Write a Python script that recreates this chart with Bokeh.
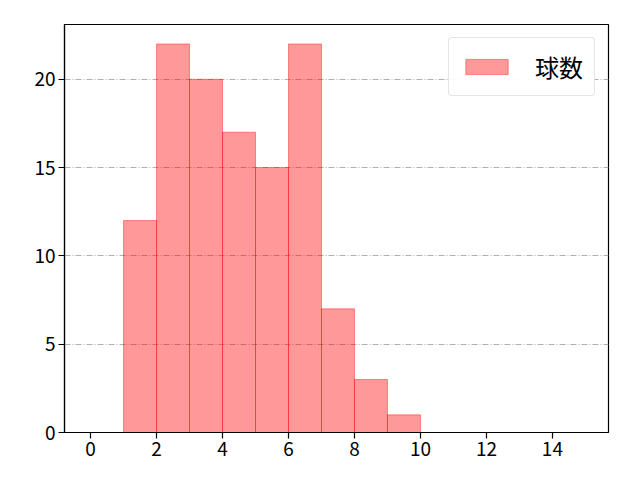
from bokeh.plotting import figure
from bokeh.embed import file_html
from bokeh.resources import INLINE
from bokeh.models import ColumnDataSource, FixedTicker, Range1d, Legend, LegendItem

bin_left = [1, 2, 3, 4, 5, 6, 7, 8, 9]
bin_right = [2, 3, 4, 5, 6, 7, 8, 9, 10]
counts = [12, 22, 20, 17, 15, 22, 7, 3, 1]
label = "球数"
x_ticks = [0, 2, 4, 6, 8, 10, 12, 14]
y_ticks = [0, 5, 10, 15, 20]

src = ColumnDataSource(dict(left=bin_left, right=bin_right, top=counts, bottom=[0] * len(counts)))

p = figure(width=640, height=480, output_backend="svg", toolbar_location=None,
           x_range=Range1d(-0.79, 15.7), y_range=Range1d(0, 23.1))
p.min_border_left = 64
p.min_border_right = 32
p.min_border_top = 24
p.min_border_bottom = 48

r = p.quad(left="left", right="right", top="top", bottom="bottom", source=src,
           fill_color="red", fill_alpha=0.4, line_color="red", line_alpha=0.4, line_width=1)

p.outline_line_color = "black"
p.outline_line_width = 1.2
p.xgrid.visible = False
p.ygrid.grid_line_color = "#b0b0b0"
p.ygrid.grid_line_dash = "6 2 1 2"
p.ygrid.grid_line_width = 1
p.ygrid.ticker = FixedTicker(ticks=y_ticks)

for ax, ticks in ((p.xaxis, x_ticks), (p.yaxis, y_ticks)):
    ax.ticker = FixedTicker(ticks=ticks)
    ax.major_label_text_font = "Noto Sans CJK JP"
    ax.major_label_text_font_size = "19px"
    ax.major_label_text_color = "black"
    ax.major_tick_out = 6
    ax.major_tick_in = 0
    ax.minor_tick_out = 0
    ax.minor_tick_in = 0
    ax.axis_line_color = "black"
    ax.major_tick_line_color = "black"
    ax.axis_line_width = 1.2
    ax.major_tick_line_width = 1.2
    ax.major_label_standoff = 3

legend = Legend(items=[LegendItem(label=label, renderers=[r])], location="top_right")
legend.label_text_font = "Noto Sans CJK JP"
legend.label_text_font_size = "24px"
legend.label_text_color = "black"
legend.label_text_line_height = 0.8
legend.label_height = 19
legend.glyph_width = 53
legend.glyph_height = 19
legend.label_standoff = 22
legend.padding = 11
legend.margin = 13
legend.border_line_color = "#cccccc"
legend.border_radius = 4
legend.spacing = 0
p.add_layout(legend)

open("out.html", "w").write(file_html(p, INLINE))
